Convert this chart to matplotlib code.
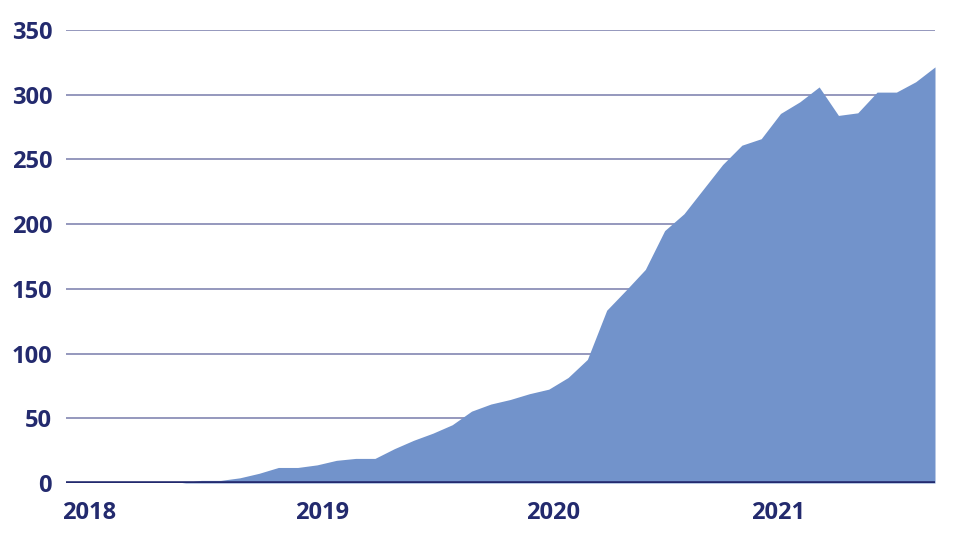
"""Cumulative monthly count, Dec 2017 - Sep 2021, as a filled area chart."""

import numpy as np

import matplotlib
matplotlib.use("Agg")
import matplotlib.pyplot as plt

# monthly values, first point Dec 2017, last Sep 2021
values = [0, 0, 0, 0, 0, 0, 0, 2, 2, 4, 7.5,
          12, 12, 14, 17.5, 19, 19, 26.5, 33, 38.5, 45,
          55.5, 61, 64.5, 69, 72.5, 81.5, 95.5, 133.5, 149, 165,
          195, 208, 227, 246, 261, 266, 285.5, 294.5, 306, 284,
          286, 302, 302, 310, 321.5]
year_labels = ["2018", "2019", "2020", "2021"]
year_pos = [1.2, 13.25, 25.2, 36.9]   # label centres in month-index units
y_ticks = [0, 50, 100, 150, 200, 250, 300, 350]

NAVY = "#232a6e"
GRID = "#8c90b8"
FILL = "#7293cb"

x = np.arange(len(values))

fig = plt.figure(figsize=(9.6, 5.5), dpi=100)
ax = fig.add_axes([66 / 960, 67 / 550, (935 - 66) / 960, (483 - 30) / 550])

ax.fill_between(x, values, 0, color=FILL, linewidth=0, zorder=2)
for t in y_ticks[1:]:
    ax.axhline(t, color=GRID, linewidth=1.3, zorder=1)
ax.axhline(0, color=NAVY, linewidth=2.6, zorder=3)

ax.set_xlim(0, len(values) - 1)
ax.set_ylim(0, 350)
ax.set_yticks(y_ticks)
ax.set_xticks(year_pos)
ax.set_xticklabels(year_labels)
for lab in ax.get_xticklabels() + ax.get_yticklabels():
    lab.set_fontfamily("Open Sans")
    lab.set_fontweight("bold")
    lab.set_fontsize(17)
    lab.set_color(NAVY)
ax.tick_params(axis="y", length=0, pad=10)
ax.tick_params(axis="x", length=0, pad=13)
for s in ax.spines.values():
    s.set_visible(False)

fig.savefig("out.png", dpi=100)
